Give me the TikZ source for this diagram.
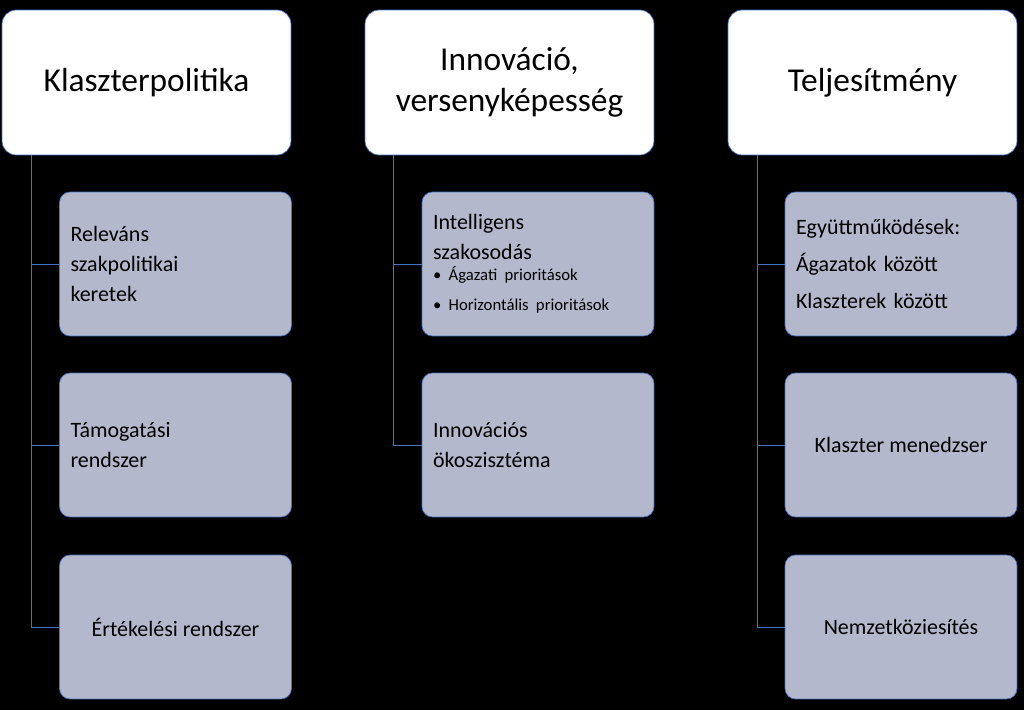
\documentclass[tikz,border=0pt]{standalone}
\usepackage{fontspec}
\setmainfont{Carlito}
\definecolor{edge}{HTML}{4472C4}
\definecolor{subfill}{HTML}{B4B8CC}
\tikzset{
  head/.style={draw=edge,fill=white,rounded corners=8pt,minimum width=5.78cm,minimum height=2.9cm,font=\fontsize{19}{23}\selectfont,align=center},
  sub/.style={draw=edge,fill=subfill,rounded corners=6pt,minimum width=4.64cm,minimum height=2.88cm,font=\fontsize{12.5}{17}\selectfont},
  link/.style={draw=edge,thin}
}
\begin{document}
\begin{tikzpicture}[x=0.02cm,y=-0.02cm]
  \fill[black] (0,0) rectangle (1024,710);
  % headers
  \node[head] (h1) at (146.5,82.5) {Klaszterpolitika};
  \node[head] (h2) at (509.5,82.5) {Innováció,\\versenyképesség};
  \node[head] (h3) at (872.5,82.5) {Teljesítmény};
  % first column
  \node[sub,align=left,text width=4.2cm] (a1) at (175.5,264) {Releváns\\szakpolitikai\\keretek};
  \node[sub,align=left,text width=4.2cm] (a2) at (175.5,445) {Támogatási\\rendszer};
  \node[sub,align=center] (a3) at (175.5,627) {Értékelési rendszer};
  % second column
  \node[sub,align=left,text width=4.2cm] (b1) at (538,264) {Intelligens\\szakosodás\\[-2pt]
    {\fontsize{9.5}{14}\selectfont\textbullet\ Ágazati prioritások\\\textbullet\ Horizontális prioritások}};
  \node[sub,align=left,text width=4.2cm] (b2) at (538,445) {Innovációs\\ökoszisztéma};
  % third column
  \node[sub,align=left,text width=4.2cm,font=\fontsize{12.5}{21}\selectfont] (c1) at (901,264) {Együttműködések:\\Ágazatok között\\Klaszterek között};
  \node[sub,align=center] (c2) at (901,445) {Klaszter menedzser};
  \node[sub,align=center] (c3) at (901,627) {Nemzetköziesítés};
  % connectors
  \coordinate (p1) at (31,155);
  \draw[link] (p1) |- (a3.west);
  \draw[link] (p1 |- a1.west) -- (a1.west);
  \draw[link] (p1 |- a2.west) -- (a2.west);
  \coordinate (p2) at (393,155);
  \draw[link] (p2) |- (b2.west);
  \draw[link] (p2 |- b1.west) -- (b1.west);
  \coordinate (p3) at (757,155);
  \draw[link] (p3) |- (c3.west);
  \draw[link] (p3 |- c1.west) -- (c1.west);
  \draw[link] (p3 |- c2.west) -- (c2.west);
\end{tikzpicture}
\end{document}
